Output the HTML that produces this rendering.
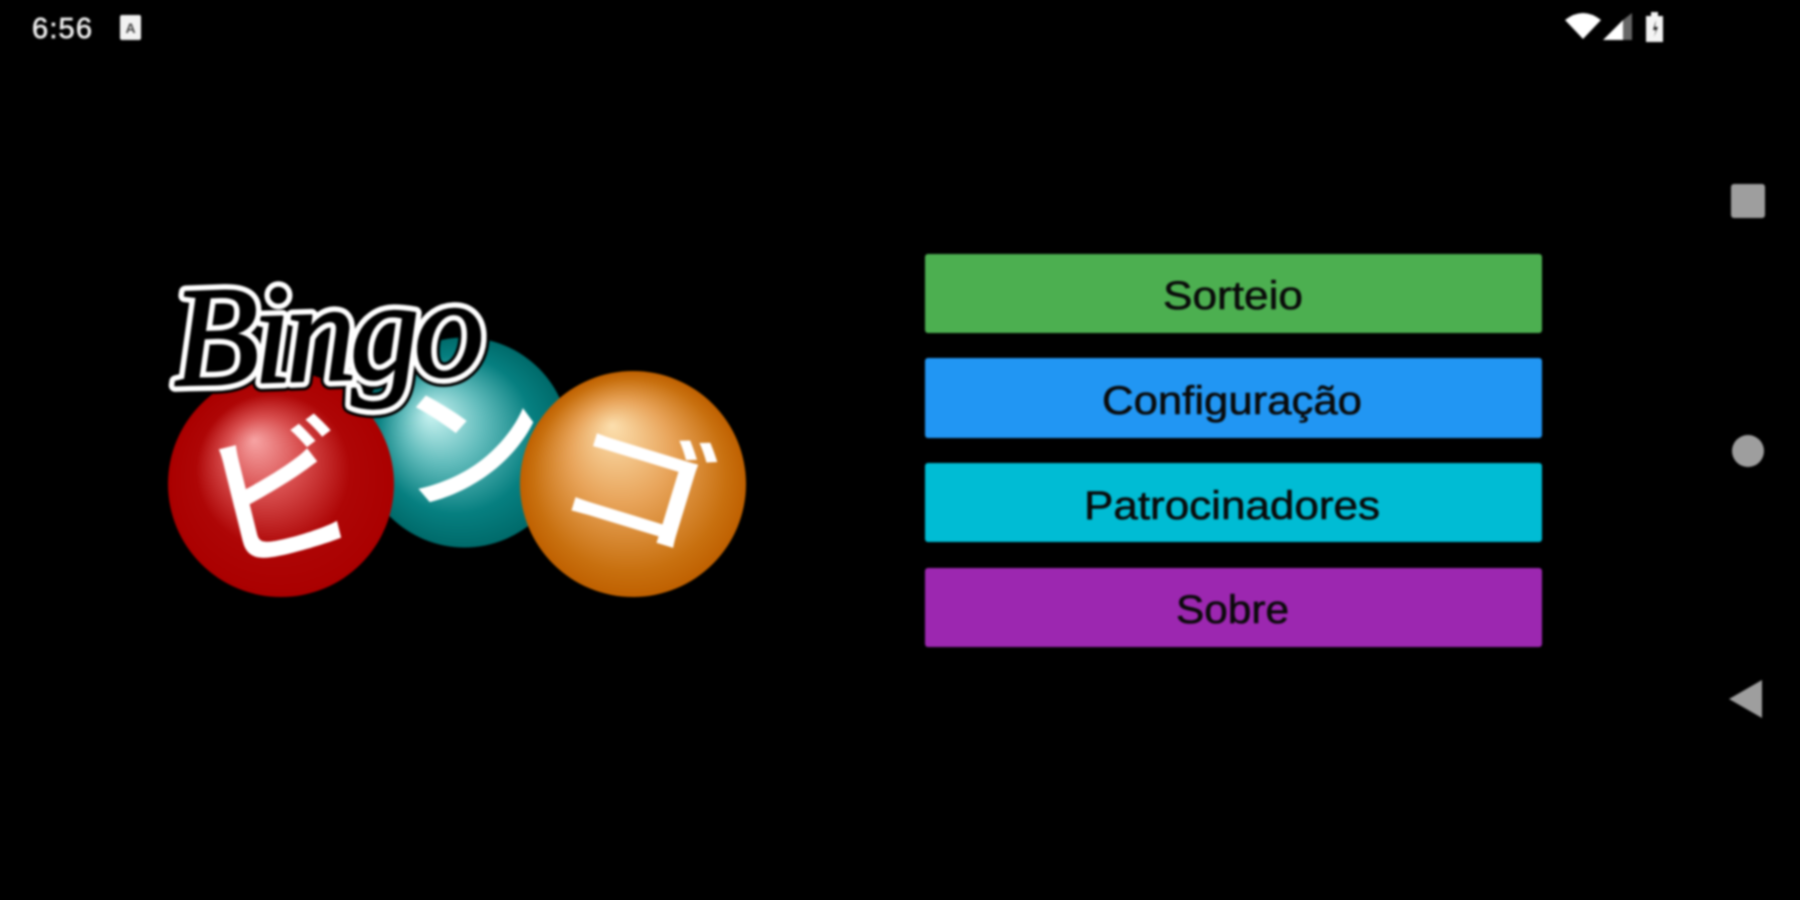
<!DOCTYPE html>
<html><head><meta charset="utf-8"><title>Bingo</title>
<style>
html,body{margin:0;padding:0;background:#000;width:1800px;height:900px;overflow:hidden}
svg{display:block;filter:blur(1px)}
.b{font-family:"Liberation Sans",sans-serif;font-size:40px;fill:#0a0a0a;stroke:#0a0a0a;stroke-width:.6px}
.k{font-family:"Liberation Sans","Noto Sans CJK JP",sans-serif;font-size:150px;font-weight:500;fill:#fff}
.g{font-family:"Liberation Serif",serif;font-style:italic;font-size:142px;stroke-linejoin:round}
</style></head><body>
<svg width="1800" height="900" viewBox="0 0 1800 900" xmlns="http://www.w3.org/2000/svg">
<defs>
<radialGradient id="rd" gradientUnits="userSpaceOnUse" cx="282" cy="485" r="113" fx="254" fy="440">
<stop offset="0" stop-color="#f7a4a4"/><stop offset=".33" stop-color="#d95050"/><stop offset=".68" stop-color="#ae0606"/><stop offset="1" stop-color="#aa0000"/></radialGradient>
<radialGradient id="tl" gradientUnits="userSpaceOnUse" cx="464" cy="442" r="105" fx="430" fy="413">
<stop offset="0" stop-color="#ccf5f3"/><stop offset=".38" stop-color="#62bcbc"/><stop offset=".75" stop-color="#067f80"/><stop offset="1" stop-color="#006a6a"/></radialGradient>
<radialGradient id="or" gradientUnits="userSpaceOnUse" cx="633" cy="484" r="113" fx="612" fy="425">
<stop offset="0" stop-color="#fcdfae"/><stop offset=".45" stop-color="#e8a45a"/><stop offset=".85" stop-color="#c8700f"/><stop offset="1" stop-color="#bf6000"/></radialGradient>
</defs>
<rect width="1800" height="900" fill="#000"/>

<!-- status bar -->
<text x="32" y="38" font-family="Liberation Sans,sans-serif" font-size="29" fill="#eee" stroke="#eee" stroke-width=".7" textLength="60">6:56</text>
<rect x="120" y="15" width="21" height="25" rx="2" fill="#f2f2f2"/>
<text x="130.5" y="33" font-family="Liberation Sans,sans-serif" font-size="14" font-weight="bold" fill="#444" text-anchor="middle">A</text>
<path d="M1565 20 Q1583 6 1601 20 L1583 39Z" fill="#fff"/>
<path d="M1603 40 L1623 20 V40Z" fill="#fff"/><path d="M1623 20 L1632 13 V40 H1623Z" fill="#666"/>
<path d="M1646 16 h5 v-4 h7 v4 h5 v26 h-17Z" fill="#f4f4f4"/>
<path d="M1656 20 l-3 10 h3 l-2 7 l4 -10 h-3Z" fill="#222"/>

<!-- nav bar -->
<rect x="1731" y="184" width="34" height="34" rx="3" fill="#9e9e9e"/>
<circle cx="1748" cy="451" r="16" fill="#9e9e9e"/>
<path d="M1729 699 L1762 680 V718Z" fill="#9e9e9e"/>

<!-- buttons -->
<rect x="925" y="254" width="617" height="79" rx="3" fill="#4caf50"/>
<rect x="925" y="358" width="617" height="80" rx="3" fill="#2196f3"/>
<rect x="925" y="463" width="617" height="79" rx="3" fill="#00bcd4"/>
<rect x="925" y="568" width="617" height="79" rx="3" fill="#9c27b0"/>
<text class="b" x="1163" y="309" textLength="140" lengthAdjust="spacingAndGlyphs">Sorteio</text>
<text class="b" x="1102" y="414" textLength="260" lengthAdjust="spacingAndGlyphs">Configuração</text>
<text class="b" x="1084" y="519" textLength="296" lengthAdjust="spacingAndGlyphs">Patrocinadores</text>
<text class="b" x="1176" y="623" textLength="113" lengthAdjust="spacingAndGlyphs">Sobre</text>

<!-- logo -->
<circle cx="464.5" cy="442.5" r="105" fill="url(#tl)"/>
<circle cx="281" cy="484" r="113" fill="url(#rd)"/>
<circle cx="633" cy="484" r="113" fill="url(#or)"/>
<text class="k" transform="translate(221 566) rotate(-14)">ビ</text>
<text class="k" transform="translate(400 501) rotate(-5) scale(1,.92)">ン</text>
<text class="k" transform="translate(552 505) rotate(17) scale(1.02,.82)">ゴ</text>
<g class="g" transform="rotate(-2 330 385)">
<text x="174" y="380" textLength="312" fill="#000" stroke="#000" stroke-width="19">Bingo</text>
<text x="174" y="380" textLength="312" fill="#000" stroke="#fff" stroke-width="13">Bingo</text>
<text x="174" y="380" textLength="312" fill="#000" stroke="#000" stroke-width="2">Bingo</text>
</g>
</svg>
</body></html>
